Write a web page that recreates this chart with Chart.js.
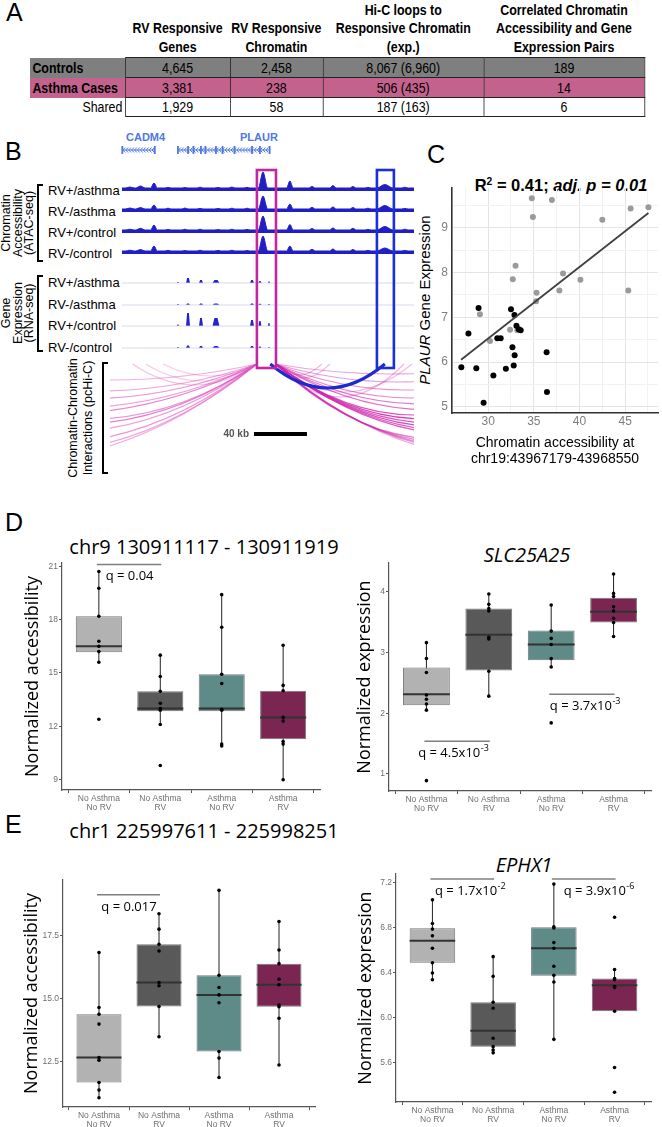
<!DOCTYPE html>
<html>
<head>
<meta charset="utf-8">
<title>RV response in asthma</title>
<script src="https://cdn.jsdelivr.net/npm/chart.js@4.4.1/dist/chart.umd.min.js"></script>
<style>
  html, body { margin: 0; padding: 0; background: #fff; }
  body { position: relative; width: 662px; height: 1127px; overflow: hidden; font-family: 'Liberation Sans', Arial, sans-serif; color: #000; }
  canvas { position: absolute; }
  .letter { position: absolute; font-size: 25px; line-height: 25px; }
  .rot { position: absolute; transform: translate(-50%, -50%) rotate(-90deg); white-space: nowrap; text-align: center; }
  .bracket { position: absolute; width: 6px; border: 2px solid #000; border-right: none; box-sizing: border-box; }
  .track { position: absolute; left: 48px; font-size: 13px; line-height: 16px; white-space: nowrap; }
  .gene { position: absolute; font-size: 11px; line-height: 12px; font-weight: bold; color: #5078e0; }
  .ttl { position: absolute; width: 320px; text-align: center; font-family: 'Open Sans', sans-serif; font-size: 20px; line-height: 24px; white-space: nowrap; }
  /* the original table uses a condensed face: draw it wide and squeeze it horizontally */
  #summary { position: absolute; left: 30px; top: 0; width: 768px; border-collapse: collapse; table-layout: fixed;
             transform: scaleX(0.8); transform-origin: 0 0;
             font-family: 'Liberation Sans', Arial, sans-serif; font-size: 15.5px; }
  #summary th { font-weight: bold; line-height: 18.5px; vertical-align: bottom; padding: 0 0 1px 0; height: 56px; text-align: center; white-space: nowrap; }
  #summary td { border: 1px solid #222; text-align: center; padding: 0 3px; line-height: 18px; white-space: nowrap; }
  #summary td.name { border: none; border-right: 1px solid #222; text-align: left; font-weight: bold; }
  #summary tr.g0 td { background: #7f7f7f; height: 19px; }
  #summary tr.g1 td { background: #c4628e; height: 19px; }
  #summary tr.g2 td { height: 16px; }
  #summary tr.g2 td.name { text-align: right; font-weight: normal; }
</style>
</head>
<body>

<div class="letter" style="left:6px;top:0px;">A</div>
<div class="letter" style="left:5px;top:139px;">B</div>
<div class="letter" style="left:427px;top:142px;">C</div>
<div class="letter" style="left:5px;top:510px;">D</div>
<div class="letter" style="left:5px;top:812px;">E</div>

<table id="summary">
  <colgroup><col style="width:119px"><col style="width:131px"><col style="width:116px"><col style="width:201px"><col style="width:201px"></colgroup>
  <thead><tr id="headRow"><th></th></tr></thead>
  <tbody id="tableBody"></tbody>
</table>

<!-- panel B decorations -->
<div class="gene" style="left:126px;top:131px;">CADM4</div>
<div class="gene" style="left:240px;top:131px;">PLAUR</div>
<div id="trackLabels"></div>
<div class="bracket" style="left:37px;top:184px;height:78px;"></div>
<div class="bracket" style="left:37px;top:275px;height:77px;"></div>
<div class="bracket" style="left:102px;top:362px;height:112px;"></div>
<div class="rot" style="left:18px;top:223px;font-size:12.5px;line-height:11.5px;">Chromatin<br>Accessibility<br>(ATAC-seq)</div>
<div class="rot" style="left:18px;top:313px;font-size:12.5px;line-height:11.5px;">Gene<br>Expression<br>(RNA-seq)</div>
<div class="rot" style="left:81px;top:418px;font-size:12.5px;line-height:15px;">Chromatin-Chromatin<br>Interactions (pcHi-C)</div>
<canvas id="tracks" width="306" height="352" style="left:110px;top:128px;"></canvas>

<!-- panel C -->
<div style="position:absolute;left:461px;top:175px;width:200px;text-align:center;font-weight:bold;font-size:16.5px;line-height:20px;white-space:nowrap;">R<sup style="font-size:0.62em;vertical-align:0.55em;line-height:0;">2</sup> = 0.41; <i>adj. p = 0.01</i></div>
<div class="rot" style="left:425px;top:300px;font-size:15px;line-height:18px;"><i>PLAUR</i> Gene Expression</div>
<canvas id="scatterC" width="257" height="320" style="left:405px;top:160px;"></canvas>

<!-- panels D and E -->
<div class="ttl" style="left:44px;top:535px;">chr9 130911117 - 130911919</div>
<div class="ttl" style="left:367px;top:543px;font-style:italic;">SLC25A25</div>
<div class="ttl" style="left:44px;top:819px;">chr1 225997611 - 225998251</div>
<div class="ttl" style="left:364px;top:853px;font-style:italic;">EPHX1</div>
<canvas id="boxChr9" width="325" height="260" style="left:0px;top:555px;"></canvas>
<canvas id="boxSlc" width="332" height="260" style="left:330px;top:555px;"></canvas>
<canvas id="boxChr1" width="325" height="255" style="left:0px;top:872px;"></canvas>
<canvas id="boxEphx" width="332" height="261" style="left:330px;top:866px;"></canvas>

<script>
// ---------------- panel A data ----------------
const tableHeaders = [['RV Responsive', 'Genes'], ['RV Responsive', 'Chromatin'],
  ['Hi-C loops to', 'Responsive Chromatin', '(exp.)'],
  ['Correlated Chromatin', 'Accessibility and Gene', 'Expression Pairs']];
const tableGroups = ['Controls', 'Asthma Cases', 'Shared'];
const rvGenes = ['4,645', '3,381', '1,929'];
const rvChromatin = ['2,458', '238', '58'];
const hicLoops = ['8,067 (6,960)', '506 (435)', '187 (163)'];
const correlatedPairs = ['189', '14', '6'];

// ---------------- panel B data (positions in kb) ----------------
const trackNames = ['RV+/asthma', 'RV-/asthma', 'RV+/control', 'RV-/control'];
const atacStartKb = 9, atacEndKb = 229.5, atacFloor = 3;
const atacPeakKb =      [15, 23, 33.2, 43.8, 56.6, 68, 81.5, 92, 103.4, 115.5, 135.8, 152.5, 168.3, 183.4, 194.7, 207.5, 222.6];
const atacPeakWidthKb = [3.5, 3.5, 2.5, 2.5, 2.5, 2.5, 2.5, 2.5, 2.5, 3.5, 2.5, 2.5, 2.5, 2.5, 2.5, 6, 2.5];
const atacRvPosAsthma =  [4, 5, 8, 3.6, 3.4, 3.8, 3.6, 4, 3.6, 19, 10, 4.5, 5.5, 4.5, 3.6, 6.5, 3.8];
const atacRvNegAsthma =  [4, 4.5, 7, 3.8, 4, 3.6, 3.6, 3.8, 3.8, 16, 8, 4.7, 5, 4.5, 3.8, 6.5, 3.6];
const atacRvPosControl = [3.8, 4.7, 8, 3.6, 3.8, 3.8, 3.4, 3.8, 3.6, 17, 8.5, 4.5, 5, 4.7, 3.6, 6.5, 3.8];
const atacRvNegControl = [3.8, 4.5, 8, 3.6, 3.4, 3.8, 3.6, 3.8, 3.4, 18, 8, 4.7, 5, 4.5, 3.6, 6, 3.6];
const exonKb =     [51.3, 58.9, 68.7, 80.0, 107.2, 113.2, 120.0];
const exonHalfKb = [0.8, 1.5, 1.5, 2.6, 1.5, 1.1, 0.8];
const rnaRvPosAsthma =  [1, 5, 3, 3, 3, 2, 1.5];
const rnaRvNegAsthma =  [1, 1.5, 1.5, 1.5, 1.5, 1.2, 1];
const rnaRvPosControl = [1.5, 13, 8, 8, 6, 5, 3];
const rnaRvNegControl = [1, 2.5, 2, 2, 2, 1.5, 1];
const geneNames = ['CADM4', 'PLAUR'];
const geneStartKb = [9, 51];
const geneEndKb = [34, 121];
const geneExonKb = [[9.3, 33.8], [51.3, 58.9, 63, 68.7, 72, 80, 85, 94, 107.2, 113.2, 120.5]];
const plaurRegionKb = [110.9, 125.3];
const distalRegionKb = [201.5, 214.3];
const leftArcEndKb = [-110, -130, -150, -170, -190, -140, -160, -180, -200, -220, -250, 17, 27, 40];
const leftArcDepth = [16, 27, 35, 44, 50, 55, 60, 68, 79, 88, 96, 21, 17, 12];
const leftArcScore = [0.45, 0.5, 0.6, 0.55, 0.7, 0.6, 0.75, 0.55, 0.6, 0.5, 0.45, 0.35, 0.3, 0.3];
const rightArcEndKb = [160, 166, 222, 228, 300, 310, 320, 330, 345, 360, 335, 350, 365, 380, 395, 410, 370, 390, 410, 430, 450];
const rightArcDepth = [11, 14, 33, 28, 10, 18, 26, 34, 40, 46, 51, 55, 59, 63, 67, 71, 75, 79, 83, 87, 92];
const rightArcScore = [0.3, 0.3, 0.35, 0.3, 0.4, 0.45, 0.5, 0.55, 0.6, 0.65, 0.8, 0.85, 0.75, 0.8, 0.7, 0.75, 0.6, 0.55, 0.5, 0.45, 0.4];
const leftAnchorKb = 111, rightAnchorKb = 125;
const distalLoop = [121, 207.5, 24];   // start kb, end kb, depth
const scaleBarKb = [108.7, 40];        // start, length

// ---------------- panel C data ----------------
const grayAccess = [34.78, 36.98, 34.9, 42.5, 45.6, 47.55, 33.0, 32.7, 38.2, 40.1, 35.3, 37.8, 45.35, 35.25, 29.1, 32.4, 33.2, 30.2];
const grayExpr =   [9.66, 9.62, 9.24, 9.18, 9.43, 9.46, 8.15, 7.85, 7.98, 7.84, 7.55, 7.60, 7.60, 7.36, 7.07, 6.72, 6.71, 6.47];
const blackAccess = [28.95, 27.84, 27.06, 28.7, 30.57, 29.5, 31.94, 32.8, 32.9, 32.66, 32.5, 32.88, 33.1, 33.34, 33.56, 31.0, 31.37, 36.4, 36.44];
const blackExpr =   [7.21, 6.64, 5.88, 5.86, 5.70, 5.09, 5.85, 5.92, 6.15, 6.33, 7.18, 7.05, 6.81, 6.73, 6.71, 6.53, 6.53, 6.22, 5.33];
const fitAccess = [27.03, 47.55];
const fitExpr = [6.05, 9.33];

// ---------------- panels D / E data ----------------
const groupLabels = [['No Asthma', 'No RV'], ['No Asthma', 'RV'], ['Asthma', 'No RV'], ['Asthma', 'RV']];
const groupColors = ['#b2b2b2', '#595959', '#5e8b88', '#7b2652'];

const chr9Q1 = [16.16, 12.85, 12.85, 11.27];
const chr9Median = [16.5, 13.0, 13.0, 12.5];
const chr9Q3 = [18.19, 13.97, 14.93, 14.0];
const chr9Low = [15.6, 12.1, 10.9, 9.0];
const chr9High = [20.72, 16.0, 19.4, 16.56];
const chr9Points = [[20.7, 19.76, 18.19, 16.78, 16.5, 16.2, 15.6, 12.4],
                    [16.0, 14.8, 13.97, 13.3, 13.0, 12.9, 12.1, 9.8],
                    [19.4, 17.57, 14.93, 14.4, 12.96, 12.9, 11.0, 10.9],
                    [16.56, 14.3, 14.0, 12.5, 12.3, 11.15, 11.0, 9.0]];
const chr9Ticks = [9, 12, 15, 18, 21];

const slcQ1 = [2.13, 2.70, 2.87, 3.49];
const slcMedian = [2.31, 3.29, 3.13, 3.67];
const slcQ3 = [2.75, 3.72, 3.36, 3.90];
const slcLow = [2.05, 2.28, 2.76, 3.26];
const slcHigh = [3.16, 3.96, 3.78, 4.29];
const slcPoints = [[3.16, 2.9, 2.67, 2.3, 2.23, 2.15, 2.05, 0.89],
                   [3.96, 3.79, 3.72, 3.68, 3.25, 3.22, 2.69, 2.28],
                   [3.78, 3.35, 3.23, 3.13, 2.9, 2.76, 1.84],
                   [4.29, 3.97, 3.92, 3.75, 3.68, 3.56, 3.49, 3.26]];
const slcTicks = [1, 2, 3, 4];

const chr1Q1 = [11.68, 14.7, 12.91, 14.69];
const chr1Median = [12.67, 15.65, 15.16, 15.56];
const chr1Q3 = [14.39, 17.17, 15.94, 16.4];
const chr1Low = [11.08, 13.5, 11.88, 12.38];
const chr1High = [16.84, 18.38, 19.31, 18.07];
const chr1Points = [[16.84, 14.66, 14.39, 14.0, 12.67, 12.57, 11.68, 11.38, 11.08],
                    [18.38, 17.77, 17.17, 16.9, 15.65, 15.52, 14.7, 13.5],
                    [19.31, 15.94, 15.45, 15.16, 14.85, 12.91, 12.65, 11.88],
                    [18.07, 16.94, 16.4, 15.78, 15.56, 14.76, 14.69, 14.23, 12.38]];
const chr1Ticks = [12.5, 15.0, 17.5];

const ephxQ1 = [6.49, 5.745, 6.376, 6.06];
const ephxMedian = [6.687, 5.887, 6.62, 6.29];
const ephxQ3 = [6.797, 6.14, 6.806, 6.35];
const ephxLow = [6.34, 5.686, 5.81, 6.06];
const ephxHigh = [7.05, 6.545, 7.19, 6.43];
const ephxPoints = [[7.05, 6.84, 6.79, 6.73, 6.62, 6.49, 6.4, 6.34],
                    [6.545, 6.37, 6.14, 6.086, 5.82, 5.745, 5.715, 5.69],
                    [7.19, 6.81, 6.8, 6.67, 6.62, 6.46, 6.38, 6.32, 5.81],
                    [6.895, 6.43, 6.35, 6.34, 6.28, 6.27, 6.06, 5.56, 5.34]];
const ephxTicks = [5.6, 6.0, 6.4, 6.8, 7.2];

// significance bars: groups compared, bar height, label centre, label
const chr9Notes = [{from: 1, to: 2, at: 21.1, labelAt: 1.5, text: 'q = 0.04', exp: ''}];
const slcNotes = [{from: 1, to: 2, at: 1.54, labelAt: 1.43, text: 'q = 4.5x10', exp: '-3'},
                  {from: 3, to: 4, at: 2.31, labelAt: 3.54, text: 'q = 3.7x10', exp: '-3'}];
const chr1Notes = [{from: 1, to: 2, at: 19.13, labelAt: 1.5, text: 'q = 0.017', exp: ''}];
const ephxNotes = [{from: 1, to: 2, at: 7.236, labelAt: 1.62, text: 'q = 1.7x10', exp: '-2'},
                   {from: 3, to: 4, at: 7.236, labelAt: 3.74, text: 'q = 3.9x10', exp: '-6'}];

Chart.defaults.font.family = "'Liberation Sans', Arial, sans-serif";
Chart.defaults.animation = false;
Chart.defaults.plugins.legend.display = false;
Chart.defaults.plugins.tooltip.enabled = false;

// ---------------- panel A ----------------
const headRow = document.getElementById('headRow');
tableHeaders.forEach(lines => {
  const th = document.createElement('th');
  th.innerHTML = lines.join('<br>');
  headRow.appendChild(th);
});
const tableBody = document.getElementById('tableBody');
tableGroups.forEach((name, i) => {
  const tr = document.createElement('tr');
  tr.className = 'g' + i;
  const cells = [name, rvGenes[i], rvChromatin[i], hicLoops[i], correlatedPairs[i]];
  cells.forEach((c, j) => {
    const td = document.createElement('td');
    if (j === 0) td.className = 'name';
    td.textContent = c;
    tr.appendChild(td);
  });
  tableBody.appendChild(tr);
});

// ---------------- panel B ----------------
// vertical layout of the browser tracks (y units = pixels from top of canvas)
const atacBase = [63, 84, 105, 126];
const rnaBase = [155, 177, 198, 220];
const geneRowY = 22, loopBaseY = 236, scaleBarY = 306, highlightTop = 42, highlightBottom = 240;

const trackLabels = document.getElementById('trackLabels');
[...atacBase, ...rnaBase].forEach((b, i) => {
  const d = document.createElement('div');
  d.className = 'track';
  d.style.top = (128 + b - 8) + 'px';
  d.textContent = trackNames[i % 4];
  trackLabels.appendChild(d);
});

function atacPoints(heights, base) {
  const pts = [{x: atacStartKb, y: base - atacFloor}];
  atacPeakKb.forEach((p, i) => {
    const w = atacPeakWidthKb[i];
    pts.push({x: p - w, y: base - atacFloor}, {x: p, y: base - heights[i]}, {x: p + w, y: base - atacFloor});
  });
  pts.push({x: atacEndKb, y: base - atacFloor});
  return pts;
}
function rnaPoints(heights, base) {
  const pts = [{x: atacStartKb, y: base}];
  exonKb.forEach((c, i) => {
    const w = exonHalfKb[i];
    pts.push({x: c - w, y: base}, {x: c - w * 0.45, y: base - heights[i]},
             {x: c + w * 0.45, y: base - heights[i]}, {x: c + w, y: base});
  });
  pts.push({x: atacEndKb, y: base});
  return pts;
}

const atacSets = [atacRvPosAsthma, atacRvNegAsthma, atacRvPosControl, atacRvNegControl];
const rnaSets = [rnaRvPosAsthma, rnaRvNegAsthma, rnaRvPosControl, rnaRvNegControl];
const trackDatasets = [];
atacSets.forEach((h, i) => trackDatasets.push({
  data: atacPoints(h, atacBase[i]), fill: {value: atacBase[i]},
  borderColor: '#1f1fc4', backgroundColor: '#1f1fc4', borderWidth: 1,
  pointRadius: 0, cubicInterpolationMode: 'monotone'
}));
rnaSets.forEach((h, i) => {
  trackDatasets.push({
    data: [{x: atacStartKb, y: rnaBase[i]}, {x: atacEndKb, y: rnaBase[i]}],
    borderColor: 'rgba(205,208,230,0.8)', borderWidth: 1, pointRadius: 0, fill: false
  });
  trackDatasets.push({
    data: rnaPoints(h, rnaBase[i]), fill: {value: rnaBase[i]},
    borderColor: '#2323d0', backgroundColor: '#2323d0', borderWidth: 0, pointRadius: 0, tension: 0
  });
});

const browserDecor = {
  id: 'browserDecor',
  afterDatasetsDraw(chart) {
    const {ctx, chartArea} = chart;
    const x = chart.scales.x, y = chart.scales.y;
    const px = v => x.getPixelForValue(v), py = v => y.getPixelForValue(v);
    ctx.save();

    // gene models
    ctx.strokeStyle = '#5078e0'; ctx.fillStyle = '#5078e0';
    geneNames.forEach((g, i) => {
      const gy = py(geneRowY);
      ctx.lineWidth = 1;
      ctx.beginPath(); ctx.moveTo(px(geneStartKb[i]), gy); ctx.lineTo(px(geneEndKb[i]), gy); ctx.stroke();
      for (let k = geneStartKb[i] + 1.5; k < geneEndKb[i] - 0.5; k += 2.2) {
        const cx = px(k);
        ctx.beginPath(); ctx.moveTo(cx + 1.3, gy - 2.5); ctx.lineTo(cx - 1, gy); ctx.lineTo(cx + 1.3, gy + 2.5); ctx.stroke();
      }
      geneExonKb[i].forEach(e => ctx.fillRect(px(e) - 0.9, gy - 4, 1.8, 8));
    });

    // chromatin loops
    ctx.save();
    ctx.beginPath();
    ctx.rect(chartArea.left, py(loopBaseY) - 12, px(atacEndKb) - chartArea.left, chartArea.bottom);
    ctx.clip();
    const loop = (k1, k2, depth) => {
      const x1 = px(k1), x2 = px(k2), y0 = py(loopBaseY), yc = py(loopBaseY + 2 * depth);
      ctx.beginPath(); ctx.moveTo(x1, y0); ctx.quadraticCurveTo((x1 + x2) / 2, yc, x2, y0); ctx.stroke();
    };
    ctx.lineWidth = 1.2;
    leftArcEndKb.forEach((e, i) => {
      ctx.strokeStyle = 'rgba(222,80,192,' + leftArcScore[i] + ')';
      loop(e, leftAnchorKb, leftArcDepth[i]);
    });
    rightArcEndKb.forEach((e, i) => {
      ctx.strokeStyle = 'rgba(206,36,172,' + rightArcScore[i] + ')';
      loop(rightAnchorKb, e, rightArcDepth[i]);
    });
    ctx.strokeStyle = '#1c2ad0'; ctx.lineWidth = 3;
    loop(distalLoop[0], distalLoop[1], distalLoop[2]);
    ctx.restore();

    // 40 kb scale bar
    ctx.fillStyle = '#000';
    const sy = py(scaleBarY);
    ctx.fillRect(px(scaleBarKb[0]), sy - 2, px(scaleBarKb[0] + scaleBarKb[1]) - px(scaleBarKb[0]), 4);
    ctx.fillStyle = '#555'; ctx.font = "bold 10px 'Liberation Sans', Arial, sans-serif";
    ctx.textAlign = 'right'; ctx.textBaseline = 'middle';
    ctx.fillText(scaleBarKb[1] + ' kb', px(scaleBarKb[0]) - 5, sy);

    // highlighted regions
    ctx.lineWidth = 2.6;
    ctx.strokeStyle = '#c2279f';
    ctx.strokeRect(px(plaurRegionKb[0]), py(highlightTop), px(plaurRegionKb[1]) - px(plaurRegionKb[0]), py(highlightBottom) - py(highlightTop));
    ctx.strokeStyle = '#1b2fd6';
    ctx.strokeRect(px(distalRegionKb[0]), py(highlightTop), px(distalRegionKb[1]) - px(distalRegionKb[0]), py(highlightBottom) - py(highlightTop));
    ctx.restore();
  }
};

new Chart(document.getElementById('tracks'), {
  type: 'line',
  data: {datasets: trackDatasets},
  options: {
    responsive: false,
    layout: {padding: 0},
    scales: {
      x: {type: 'linear', min: 0, max: 231, display: false},
      y: {type: 'linear', min: 0, max: 352, reverse: true, display: false}
    }
  },
  plugins: [browserDecor]
});

// ---------------- panel C ----------------
new Chart(document.getElementById('scatterC'), {
  type: 'scatter',
  data: {
    datasets: [
      {type: 'line', data: fitAccess.map((v, i) => ({x: v, y: fitExpr[i]})), borderColor: '#404040', borderWidth: 1.8, pointRadius: 0, order: 0},
      {data: blackAccess.map((v, i) => ({x: v, y: blackExpr[i]})), backgroundColor: '#000', borderWidth: 0, pointRadius: 3, order: 1},
      {data: grayAccess.map((v, i) => ({x: v, y: grayExpr[i]})), backgroundColor: '#9a9a9a', borderWidth: 0, pointRadius: 3, order: 2}
    ]
  },
  options: {
    responsive: false,
    layout: {padding: {top: 28, right: 0, left: 0, bottom: 0}},
    scales: {
      x: {
        type: 'linear', min: 26.04, max: 48.6,
        afterBuildTicks: s => { s.ticks = [27.5, 30, 32.5, 35, 37.5, 40, 42.5, 45, 47.5].map(v => ({value: v})); },
        afterFit: s => { s.height = 67; },
        ticks: {callback: v => (v % 5 === 0 ? v : ''), color: '#7f7f7f', font: {size: 12}, padding: 1, maxRotation: 0, autoSkip: false},
        grid: {color: c => (c.tick && c.tick.value % 5 === 0 ? '#e4e4e4' : '#f2f2f2'), drawTicks: false},
        border: {display: true, color: '#333', width: 1.6},
        title: {display: true, text: ['Chromatin accessibility at', 'chr19:43967179-43968550'], color: '#000', font: {size: 14}, padding: {top: 0, bottom: 12}}
      },
      y: {
        type: 'linear', min: 4.86, max: 9.89,
        afterBuildTicks: s => { s.ticks = [5, 5.5, 6, 6.5, 7, 7.5, 8, 8.5, 9, 9.5].map(v => ({value: v})); },
        afterFit: s => { s.width = 47; },
        ticks: {callback: v => (Number.isInteger(v) ? v : ''), color: '#7f7f7f', font: {size: 12}, padding: 4, autoSkip: false},
        grid: {color: c => (c.tick && Number.isInteger(c.tick.value) ? '#e4e4e4' : '#f2f2f2'), drawTicks: false},
        border: {display: true, color: '#333', width: 1.6}
      }
    }
  }
});

// ---------------- panels D / E ----------------
function boxParts(low, high, median) {
  return {
    id: 'boxParts',
    beforeDatasetsDraw(chart) {
      const {ctx} = chart, x = chart.scales.x, y = chart.scales.y;
      ctx.save();
      ctx.strokeStyle = '#222'; ctx.lineWidth = 1;
      low.forEach((lo, i) => {
        const cx = x.getPixelForValue(i + 1);
        ctx.beginPath(); ctx.moveTo(cx, y.getPixelForValue(lo)); ctx.lineTo(cx, y.getPixelForValue(high[i])); ctx.stroke();
      });
      ctx.restore();
    },
    afterDatasetDraw(chart, args) {
      if (args.index !== 0) return;
      const {ctx} = chart, x = chart.scales.x, y = chart.scales.y;
      const half = (x.getPixelForValue(2) - x.getPixelForValue(1)) * 0.75 / 2;
      ctx.save();
      ctx.strokeStyle = '#333'; ctx.lineWidth = 2;
      median.forEach((m, i) => {
        const cx = x.getPixelForValue(i + 1), my = y.getPixelForValue(m);
        ctx.beginPath(); ctx.moveTo(cx - half, my); ctx.lineTo(cx + half, my); ctx.stroke();
      });
      ctx.restore();
    }
  };
}
function qNotes(notes) {
  return {
    id: 'qNotes',
    afterDraw(chart) {
      const {ctx} = chart, x = chart.scales.x, y = chart.scales.y;
      ctx.save();
      notes.forEach(n => {
        const yy = y.getPixelForValue(n.at);
        ctx.strokeStyle = '#7f7f7f'; ctx.lineWidth = 1.5;
        ctx.beginPath(); ctx.moveTo(x.getPixelForValue(n.from) - 2, yy); ctx.lineTo(x.getPixelForValue(n.to) + 1, yy); ctx.stroke();
        const base = "13px 'Open Sans', sans-serif", small = "9px 'Open Sans', sans-serif";
        ctx.font = base; const w1 = ctx.measureText(n.text).width;
        ctx.font = small; const w2 = n.exp ? ctx.measureText(n.exp).width : 0;
        const left = x.getPixelForValue(n.labelAt) - (w1 + w2) / 2;
        ctx.fillStyle = '#000'; ctx.textAlign = 'left'; ctx.textBaseline = 'middle';
        ctx.font = base; ctx.fillText(n.text, left, yy + 12);
        if (n.exp) { ctx.font = small; ctx.fillText(n.exp, left + w1 + 0.5, yy + 7); }
      });
      ctx.restore();
    }
  };
}

function boxChart(id, s) {
  const axisGrid = {display: true, drawOnChartArea: false, drawTicks: true, tickLength: 3, color: '#555'};
  const axisBorder = {display: true, color: '#555', width: 1.2};
  return new Chart(document.getElementById(id), {
    type: 'bar',
    data: {
      datasets: [
        {type: 'bar', data: s.q1.map((v, i) => ({x: i + 1, y: [v, s.q3[i]]})),
         backgroundColor: groupColors, borderColor: '#777', borderWidth: 1, borderSkipped: false,
         barPercentage: 0.75, categoryPercentage: 1, order: 2},
        {type: 'scatter', data: s.points.flatMap((g, i) => g.map(v => ({x: i + 1, y: v}))),
         backgroundColor: '#000', borderWidth: 0, pointRadius: 1.8, order: 1}
      ]
    },
    options: {
      responsive: false,
      layout: {padding: {top: 8, right: s.padRight, left: 0, bottom: 0}},
      scales: {
        x: {
          type: 'linear', min: 0.4, max: 4.6, offset: false,
          afterBuildTicks: sc => { sc.ticks = [1, 2, 3, 4].map(v => ({value: v})); },
          afterFit: sc => { sc.height = s.xHeight; },
          ticks: {callback: v => groupLabels[v - 1], color: '#707070', font: {size: 8.5, lineHeight: 1.05}, padding: 1, maxRotation: 0, autoSkip: false},
          grid: axisGrid, border: axisBorder
        },
        y: {
          type: 'linear', min: s.range[0], max: s.range[1],
          afterBuildTicks: sc => { sc.ticks = s.ticks.map(v => ({value: v})); },
          afterFit: sc => { sc.width = s.yWidth; },
          ticks: {callback: v => v.toFixed(s.digits), color: '#707070', font: {size: 8.5}, padding: 1, autoSkip: false},
          grid: axisGrid, border: axisBorder,
          title: {display: true, text: s.yTitle, color: '#000', font: {family: "'Open Sans', sans-serif", size: 18}, padding: {top: s.titlePad, bottom: 0}}
        }
      }
    },
    plugins: [boxParts(s.low, s.high, s.median), qNotes(s.notes)]
  });
}

boxChart('boxChr9', {q1: chr9Q1, q3: chr9Q3, median: chr9Median, low: chr9Low, high: chr9High, points: chr9Points,
  ticks: chr9Ticks, digits: 0, range: [8.42, 21.18], yTitle: 'Normalized accessibility', notes: chr9Notes,
  yWidth: 62, padRight: 5, xHeight: 25, titlePad: 22});
boxChart('boxSlc', {q1: slcQ1, q3: slcQ3, median: slcMedian, low: slcLow, high: slcHigh, points: slcPoints,
  ticks: slcTicks, digits: 0, range: [0.72, 4.47], yTitle: 'Normalized expression', notes: slcNotes,
  yWidth: 59, padRight: 11, xHeight: 24, titlePad: 24});
boxChart('boxChr1', {q1: chr1Q1, q3: chr1Q3, median: chr1Median, low: chr1Low, high: chr1High, points: chr1Points,
  ticks: chr1Ticks, digits: 1, range: [10.71, 19.72], yTitle: 'Normalized accessibility', notes: chr1Notes,
  yWidth: 63, padRight: 10, xHeight: 20, titlePad: 21});
boxChart('boxEphx', {q1: ephxQ1, q3: ephxQ3, median: ephxMedian, low: ephxLow, high: ephxHigh, points: ephxPoints,
  ticks: ephxTicks, digits: 1, range: [5.253, 7.28], yTitle: 'Normalized expression', notes: ephxNotes,
  yWidth: 66, padRight: 11, xHeight: 25, titlePad: 25});
</script>
</body>
</html>
